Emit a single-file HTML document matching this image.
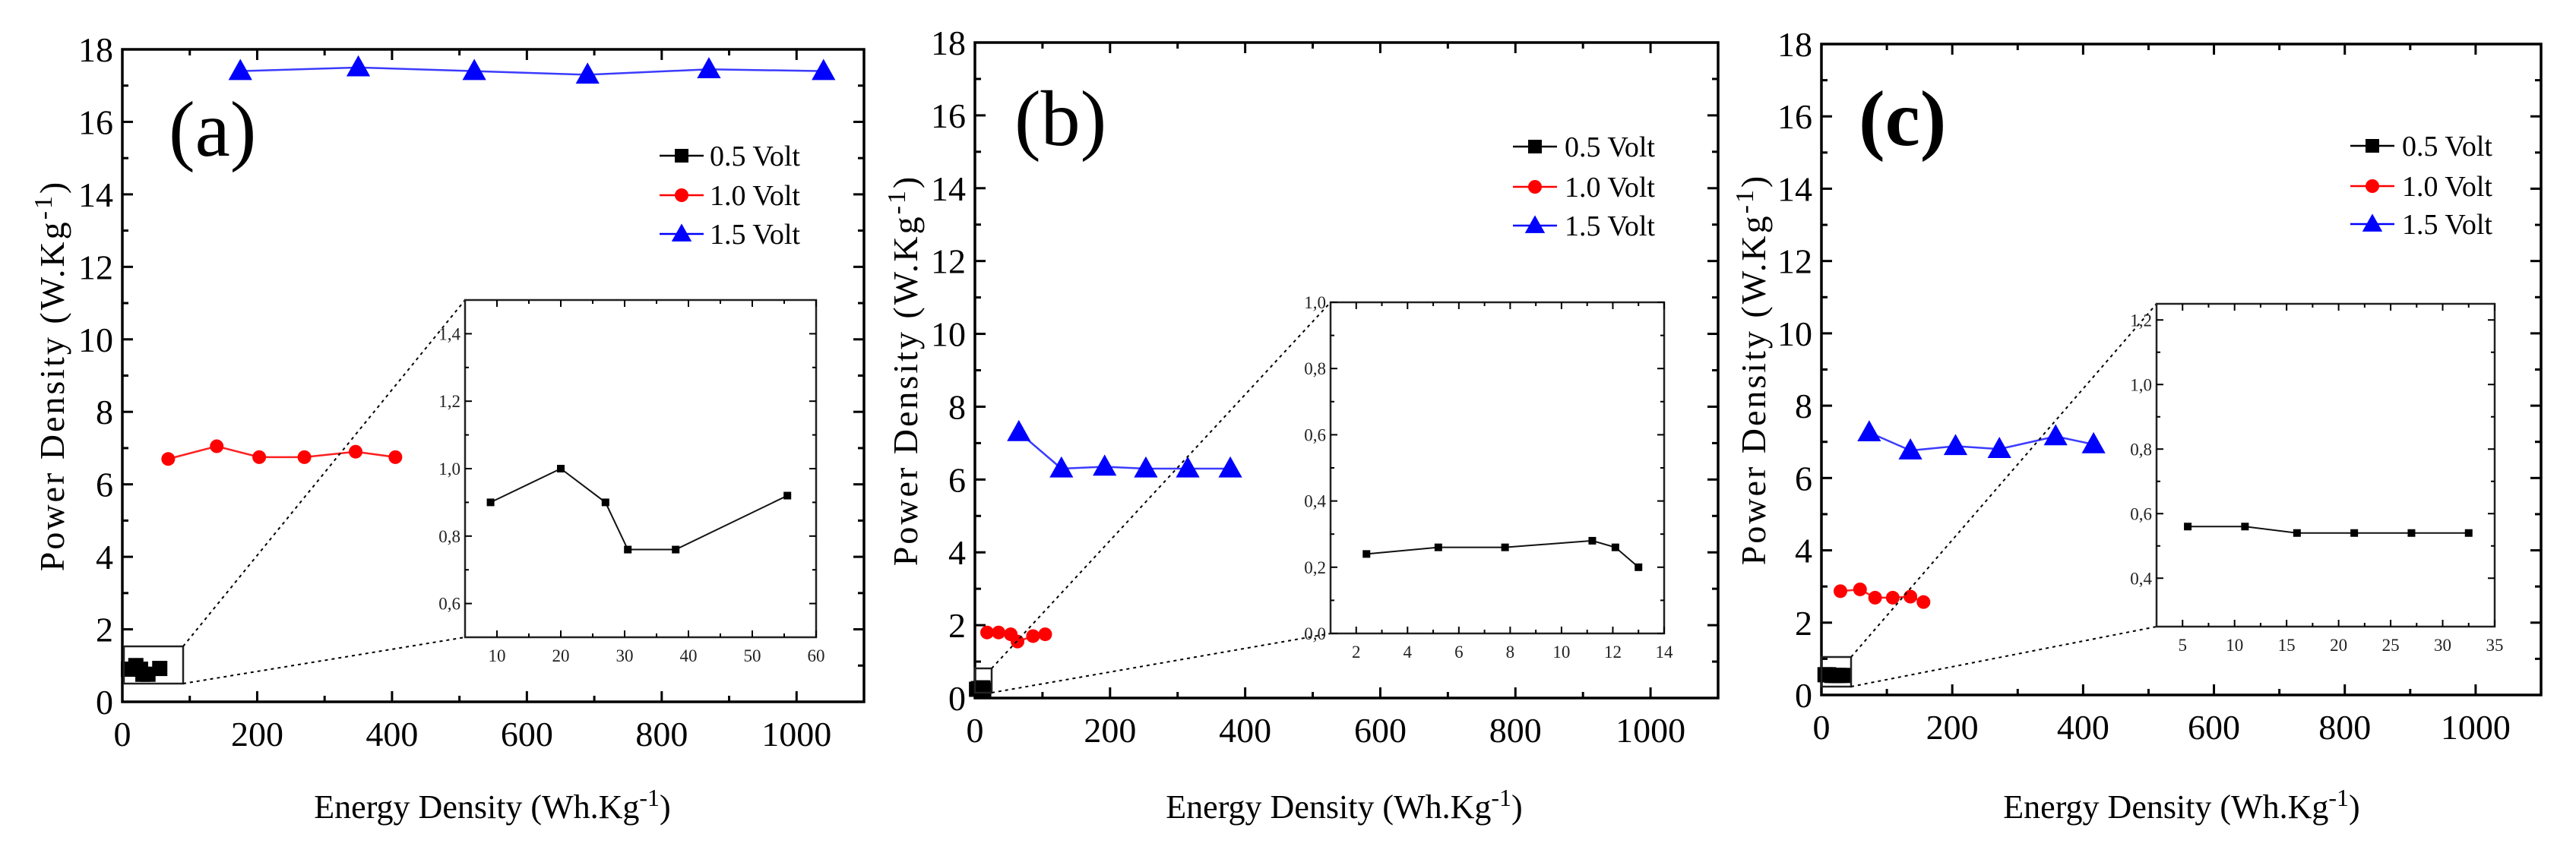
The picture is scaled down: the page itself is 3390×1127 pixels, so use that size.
<!DOCTYPE html>
<html><head><meta charset="utf-8"><style>
html,body{margin:0;padding:0;background:#fff;}
svg, svg text{font-family:"Liberation Serif","DejaVu Serif",serif;}
</style></head><body>
<svg id="fig" width="3390" height="1122" viewBox="0 0 3390 1122" xmlns="http://www.w3.org/2000/svg"></svg>
<script>
// ---- data ----
const aBlueX=[175,350,522,690,870,1040];
const aBlueY=[17.4,17.5,17.4,17.3,17.45,17.4];
const aRedX=[68,140,203,270,346,405];
const aRedY=[6.7,7.05,6.75,6.75,6.9,6.75];
const aBlackX=[9,20,27,30.5,38,55.5];
const aBlackY=[0.9,1.0,0.9,0.76,0.76,0.92];

const bBlueX=[65,128,192,253,315,378];
const bBlueY=[7.3,6.3,6.35,6.3,6.3,6.3];
const bRedX=[18,35,53,63,86,104];
const bRedY=[1.8,1.8,1.75,1.55,1.7,1.75];
const bBlackX=[2.4,5.2,7.8,11.2,12.1,13];
const bBlackY=[0.24,0.26,0.26,0.28,0.26,0.2];

const cBlueX=[73,136,205,272,358,416];
const cBlueY=[7.26,6.76,6.88,6.8,7.15,6.93];
const cRedX=[29,59,82,109,136,156];
const cRedY=[2.87,2.92,2.69,2.69,2.72,2.57];
const cBlackX=[5.5,11,16,21.5,27,32.5];
const cBlackY=[0.56,0.56,0.54,0.54,0.54,0.54];

const mainXTicks=[0,200,400,600,800,1000];
const mainYTicks=[0,2,4,6,8,10,12,14,16,18];
const aInsetXTicks=[10,20,30,40,50,60];
const aInsetYTicks=["0,6","0,8","1,0","1,2","1,4"];
const bInsetXTicks=[2,4,6,8,10,12,14];
const bInsetYTicks=["0,0","0,2","0,4","0,6","0,8","1,0"];
const cInsetXTicks=[5,10,15,20,25,30,35];
const cInsetYTicks=["0,4","0,6","0,8","1,0","1,2"];
const seriesNames=["0.5 Volt","1.0 Volt","1.5 Volt"];

const panels=[
 {id:'a',label:'(a)',bold:false,L:161,R:1137,T:65,B:924,labX:222,labY:205,legX:897,legTX:934,legY:[205,257,308],ytX:68,xtX:648,
  blue:[aBlueX,aBlueY],red:[aRedX,aRedY],black:[aBlackX,aBlackY],
  box:[163,241,851,900],
  inset:{L:612,R:1074,T:395,B:839,x0:5,x1:60,y0:0.5,y1:1.5,xt:aInsetXTicks,yt:aInsetYTicks,ymajor:0.2,ystart:0.6}},
 {id:'b',label:'(b)',bold:false,L:1283,R:2261,T:56,B:919,labX:1335,labY:191,legX:2020,legTX:2059,legY:[193,246,297],ytX:1191,xtX:1769,
  blue:[bBlueX,bBlueY],red:[bRedX,bRedY],black:[bBlackX,bBlackY],
  box:[1283,1305,880,912],
  inset:{L:1751,R:2190,T:398,B:834,x0:1,x1:14,y0:0,y1:1.0,xt:bInsetXTicks,yt:bInsetYTicks,ymajor:0.2,ystart:0}},
 {id:'c',label:'(c)',bold:true,L:2397,R:3344,T:58,B:915,labX:2446,labY:191,legX:3122,legTX:3161,legY:[192,245,295],ytX:2307,xtX:2871,
  blue:[cBlueX,cBlueY],red:[cRedX,cRedY],black:[cBlackX,cBlackY],
  box:[2397,2436,865,904],
  inset:{L:2838,R:3283,T:400,B:825,x0:2.5,x1:35,y0:0.25,y1:1.25,xt:cInsetXTicks,yt:cInsetYTicks,ymajor:0.2,ystart:0.4}}
];

const NS='http://www.w3.org/2000/svg';
const svg=document.getElementById('fig');
const FF='Liberation Serif, DejaVu Serif, serif';
function mk(tag,attrs,parent,name,inter){
  const e=document.createElementNS(NS,tag);
  for(const k in attrs)e.setAttribute(k,attrs[k]);
  if(tag==='text')e.setAttribute('font-family',FF);
  
  
  (parent||svg).appendChild(e);return e;
}
function tri(cx,cy,s){return `${cx},${cy-s*0.62} ${cx-s*0.6},${cy+s*0.45} ${cx+s*0.6},${cy+s*0.45}`;}

panels.forEach(p=>{
  const g=mk('g',{},svg,'panel-'+p.id,false);
  const sx=v=>p.L+(v/1100)*(p.R-p.L);
  const sy=v=>p.B-(v/18)*(p.B-p.T);
  mk('rect',{x:p.L,y:p.T,width:p.R-p.L,height:p.B-p.T,fill:'none',stroke:'#000','stroke-width':3.5},g,'plot-frame',false);
  for(let v=0;v<=1100;v+=100){
    const x=sx(v),len=(v%200===0)?14:8;
    mk('line',{x1:x,x2:x,y1:p.B,y2:p.B-len,stroke:'#000','stroke-width':3},g,'x-tick',false);
    mk('line',{x1:x,x2:x,y1:p.T,y2:p.T+len,stroke:'#000','stroke-width':3},g,'x-tick-top',false);
  }
  mainXTicks.forEach(v=>{
    const t=mk('text',{x:sx(v),y:p.B+58,'text-anchor':'middle','font-size':46},g,'x-tick-label',false);t.textContent=v;
  });
  for(let v=0;v<=18;v+=1){
    const y=sy(v),len=(v%2===0)?14:8;
    mk('line',{x1:p.L,x2:p.L+len,y1:y,y2:y,stroke:'#000','stroke-width':3},g,'y-tick',false);
    mk('line',{x1:p.R,x2:p.R-len,y1:y,y2:y,stroke:'#000','stroke-width':3},g,'y-tick-right',false);
  }
  mainYTicks.forEach(v=>{
    const t=mk('text',{x:p.L-12,y:sy(v)+16,'text-anchor':'end','font-size':46},g,'y-tick-label',false);t.textContent=v;
  });
  const xt=mk('text',{x:p.xtX,y:1077,'text-anchor':'middle','font-size':44},g,'x-axis-title',false);
  xt.innerHTML='Energy Density (Wh.Kg<tspan dy="-16" font-size="32">-1</tspan><tspan dy="16">)</tspan>';
  const yt=mk('text',{x:0,y:0,'text-anchor':'middle','font-size':46,'letter-spacing':3,transform:`translate(${p.ytX+16},${(p.T+p.B)/2}) rotate(-90)`},g,'y-axis-title',false);
  yt.innerHTML='Power Density (W.Kg<tspan dy="-16" font-size="34">-1</tspan><tspan dy="16">)</tspan>';
  const lb=mk('text',{x:p.labX,y:p.labY,'font-size':104,'font-weight':p.bold?'bold':'normal'},g,'panel-label',false);lb.textContent=p.label;
  const red=p.red, blue=p.blue, blk=p.black;
  mk('polyline',{points:blue[0].map((x,i)=>sx(x)+','+sy(blue[1][i])).join(' '),fill:'none',stroke:'#3b3bff','stroke-width':2.5},g,'series-1.5v-line',false);
  blue[0].forEach((x,i)=>mk('polygon',{points:tri(sx(x),sy(blue[1][i]),26),fill:'#0000ff'},g,'marker-1.5v',false));
  mk('polyline',{points:red[0].map((x,i)=>sx(x)+','+sy(red[1][i])).join(' '),fill:'none',stroke:'#ff2020','stroke-width':2.5},g,'series-1.0v-line',false);
  red[0].forEach((x,i)=>mk('circle',{cx:sx(x),cy:sy(red[1][i]),r:9,fill:'#ff0000'},g,'marker-1.0v',false));
  blk[0].forEach((x,i)=>mk('rect',{x:sx(x)-10,y:sy(blk[1][i])-10,width:20,height:20,fill:'#000'},g,'marker-0.5v',false));
  const b=p.box;
  mk('rect',{x:b[0],y:b[2],width:b[1]-b[0],height:b[3]-b[2],fill:'none',stroke:'#222','stroke-width':2.5},g,'zoom-box',false);
  const I=p.inset;
  mk('line',{x1:b[1],y1:b[2],x2:I.L,y2:I.T,stroke:'#000','stroke-width':2,'stroke-dasharray':'4,5'},g,'zoom-guide',false);
  mk('line',{x1:b[1],y1:b[3],x2:I.L,y2:I.B,stroke:'#000','stroke-width':2,'stroke-dasharray':'4,5'},g,'zoom-guide',false);
  const cols=['#000','#ff0000','#0000ff'];
  seriesNames.forEach((n,k)=>{
    const y=p.legY[k];
    mk('line',{x1:p.legX-29,x2:p.legX+29,y1:y,y2:y,stroke:cols[k],'stroke-width':2.5},g,'legend-line',false);
    if(k===0)mk('rect',{x:p.legX-9,y:y-9,width:18,height:18,fill:'#000'},g,'legend-marker',false);
    if(k===1)mk('circle',{cx:p.legX,cy:y,r:9,fill:'#ff0000'},g,'legend-marker',false);
    if(k===2)mk('polygon',{points:tri(p.legX,y,22),fill:'#0000ff'},g,'legend-marker',false);
    const t=mk('text',{x:p.legTX,y:y+13,'font-size':38},g,'legend-entry',false);t.textContent=n;
  });
  const ig=mk('g',{},g,'inset-'+p.id,false);
  const ix=v=>I.L+(v-I.x0)/(I.x1-I.x0)*(I.R-I.L);
  const iy=v=>I.B-(v-I.y0)/(I.y1-I.y0)*(I.B-I.T);
  mk('rect',{x:I.L,y:I.T,width:I.R-I.L,height:I.B-I.T,fill:'#fff',stroke:'#222','stroke-width':2.5},ig,'inset-frame',false);
  I.xt.forEach(v=>{
    [[I.B,-9],[I.T,9]].forEach(([y0,d])=>mk('line',{x1:ix(v),x2:ix(v),y1:y0,y2:y0+d,stroke:'#000','stroke-width':2},ig,'inset-x-tick',false));
    const t=mk('text',{x:ix(v),y:I.B+32,'text-anchor':'middle','font-size':23,fill:'#222'},ig,'inset-x-tick-label',false);t.textContent=v;
  });
  for(let k=0;k<I.xt.length;k++){
    const mv=I.xt[k]-(I.xt[1]-I.xt[0])/2;
    if(mv>I.x0){[[I.B,-5],[I.T,5]].forEach(([y0,d])=>mk('line',{x1:ix(mv),x2:ix(mv),y1:y0,y2:y0+d,stroke:'#000','stroke-width':2},ig,'inset-x-minor',false));}
  }
  I.yt.forEach((s,k)=>{
    const v=I.ystart+k*I.ymajor;
    [[I.L,9],[I.R,-9]].forEach(([x0,d])=>mk('line',{x1:x0,x2:x0+d,y1:iy(v),y2:iy(v),stroke:'#000','stroke-width':2},ig,'inset-y-tick',false));
    [[I.L,5],[I.R,-5]].forEach(([x0,d])=>{const mv=v+I.ymajor/2; if(mv<I.y1)mk('line',{x1:x0,x2:x0+d,y1:iy(mv),y2:iy(mv),stroke:'#000','stroke-width':2},ig,'inset-y-minor',false);});
    const t=mk('text',{x:I.L-6,y:iy(v)+8,'text-anchor':'end','font-size':23,fill:'#222'},ig,'inset-y-tick-label',false);t.textContent=s;
  });
  mk('polyline',{points:blk[0].map((x,i)=>ix(x)+','+iy(blk[1][i])).join(' '),fill:'none',stroke:'#111','stroke-width':2},ig,'inset-series-line',false);
  blk[0].forEach((x,i)=>mk('rect',{x:ix(x)-5,y:iy(blk[1][i])-5,width:10,height:10,fill:'#000'},ig,'inset-marker',false));
});
</script>
</body></html>
